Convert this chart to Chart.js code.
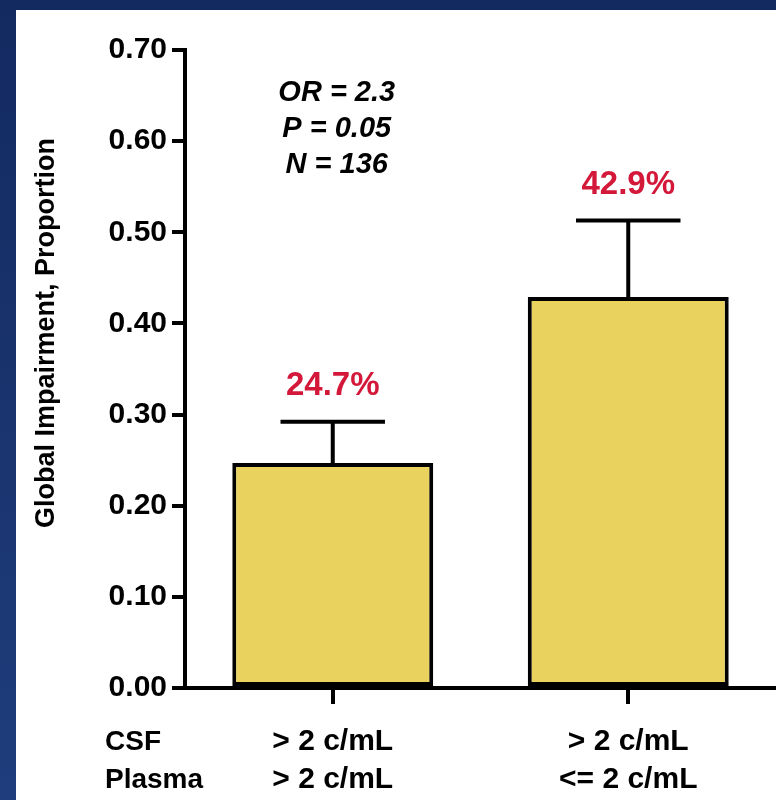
<!DOCTYPE html>
<html>
<head>
<meta charset="utf-8">
<script src="https://cdn.jsdelivr.net/npm/chart.js@4/dist/chart.umd.min.js"></script>
<style>
  html, body { margin: 0; padding: 0; }
  body {
    width: 776px; height: 800px; overflow: hidden;
    background: linear-gradient(#132a60, #1f3d7c);
    position: relative;
  }
  #panel {
    position: absolute; left: 16px; top: 10px;
    width: 760px; height: 790px; background: #ffffff;
  }
  canvas { display: block; }
</style>
</head>
<body>
<div id="panel"><canvas id="chart" width="760" height="790"></canvas></div>
<script>
// Two viral-load groups: CSF and plasma thresholds per bar
const categories = [['> 2 c/mL', '> 2 c/mL'], ['> 2 c/mL', '<= 2 c/mL']];
const rowHeaders = ['CSF', 'Plasma'];
const proportions = [0.247, 0.429];
const upperErrors = [0.292, 0.513];
const valueLabels = ['24.7%', '42.9%'];
const statsLines = ['OR = 2.3', 'P = 0.05', 'N = 136'];
const yAxisTitle = 'Global Impairment, Proportion';
const yMin = 0, yMax = 0.7, yStep = 0.1;

const FONT = '"Liberation Sans", Arial, Helvetica, sans-serif';

// Upper error whiskers, value labels, stats text, y title and row headers
const overlay = {
  id: 'overlay',
  afterDatasetsDraw(chart) {
    const ctx = chart.ctx;
    const ys = chart.scales.y;
    const meta = chart.getDatasetMeta(0);
    ctx.save();
    meta.data.forEach((bar, i) => {
      const yTop = ys.getPixelForValue(upperErrors[i]);
      const yBar = ys.getPixelForValue(proportions[i]);
      const half = bar.width * 0.26;
      ctx.strokeStyle = '#000';
      ctx.lineWidth = 4;
      ctx.lineCap = 'butt';
      ctx.beginPath();
      ctx.moveTo(bar.x, yBar);
      ctx.lineTo(bar.x, yTop);
      ctx.moveTo(bar.x - half, yTop);
      ctx.lineTo(bar.x + half, yTop);
      ctx.stroke();
      ctx.fillStyle = '#d3183a';
      ctx.font = 'bold 33px ' + FONT;
      ctx.textAlign = 'center';
      ctx.textBaseline = 'middle';
      ctx.fillText(valueLabels[i], bar.x, yTop - 36);
    });

    // statistics block above the first bar
    const x0 = meta.data[0].x + 4;
    const y0 = ys.getPixelForValue(0.653);
    ctx.fillStyle = '#000';
    ctx.font = 'italic bold 29px ' + FONT;
    ctx.textAlign = 'center';
    ctx.textBaseline = 'middle';
    statsLines.forEach((t, k) => ctx.fillText(t, x0, y0 + k * 36));
    ctx.restore();
  },
  afterDraw(chart) {
    const ctx = chart.ctx;
    const area = chart.chartArea;
    ctx.save();
    // rotated y-axis title
    ctx.fillStyle = '#000';
    ctx.font = 'bold 27px ' + FONT;
    ctx.textAlign = 'center';
    ctx.textBaseline = 'middle';
    ctx.translate(31, (area.top + area.bottom) / 2 - 36);
    ctx.rotate(-Math.PI / 2);
    ctx.fillText(yAxisTitle, 0, 0);
    ctx.restore();

    // row headers aligned with the category label lines
    const xs = chart.scales.x;
    const items = xs.getLabelItems();
    if (items.length) {
      const it = items[0];
      const lh = it.font.lineHeight;
      ctx.save();
      ctx.fillStyle = '#000';
      ctx.font = 'bold 28px ' + FONT;
      ctx.textAlign = 'left';
      ctx.textBaseline = 'middle';
      rowHeaders.forEach((t, k) => {
        ctx.fillText(t, 89, it.options.translation[1] + it.textOffset + k * lh);
      });
      ctx.restore();
    }
  }
};

new Chart(document.getElementById('chart'), {
  type: 'bar',
  data: {
    labels: categories,
    datasets: [{
      data: proportions,
      backgroundColor: '#e9d25e',
      borderColor: '#000000',
      borderWidth: 4,
      borderSkipped: false,
      barPercentage: 0.68,
      categoryPercentage: 1.0
    }]
  },
  options: {
    responsive: false,
    animation: false,
    devicePixelRatio: 1,
    layout: { padding: { top: 40, right: 0, bottom: 0, left: 0 } },
    plugins: { legend: { display: false }, tooltip: { enabled: false } },
    scales: {
      x: {
        offset: true,
        grid: {
          offset: false,
          drawOnChartArea: false,
          drawTicks: true,
          tickLength: 16,
          color: '#000',
          lineWidth: 4
        },
        border: { display: true, color: '#000', width: 4 },
        ticks: {
          color: '#000',
          padding: 19,
          maxRotation: 0,
          autoSkip: false,
          font: { family: FONT, size: 30, weight: 'bold', lineHeight: 1.267 }
        },
        afterFit(scale) { scale.height = 112; }
      },
      y: {
        min: yMin,
        max: yMax,
        grid: {
          drawOnChartArea: false,
          drawTicks: true,
          tickLength: 13,
          color: '#000',
          lineWidth: 4
        },
        border: { display: true, color: '#000', width: 4 },
        ticks: {
          stepSize: yStep,
          color: '#000',
          padding: 5,
          font: { family: FONT, size: 30, weight: 'bold' },
          callback: (v) => Number(v).toFixed(2)
        },
        afterFit(scale) { scale.width = 169; }
      }
    }
  },
  plugins: [overlay]
});
</script>
</body>
</html>
